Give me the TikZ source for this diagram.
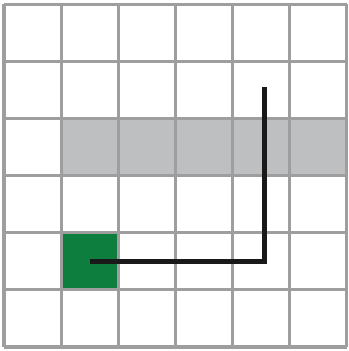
\documentclass[tikz,border=0pt]{standalone}
\definecolor{cellgreen}{HTML}{0E7E3E}
\definecolor{bandgray}{HTML}{BEBFC1}
\definecolor{gridgray}{HTML}{9E9E9E}
\begin{document}
\begin{tikzpicture}[
  x=1cm,y=1cm,
  band/.style={fill=bandgray, draw=none, minimum width=5cm, minimum height=1cm, inner sep=0pt},
  startcell/.style={fill=cellgreen, draw=none, minimum size=1cm, inner sep=0pt},
  gridline/.style={draw=gridgray, line width=1.5pt},
  route/.style={draw=black!90, line width=2.5pt, line join=miter}
]
\useasboundingbox (-0.07,-0.07) rectangle (6.02,6.07);
\fill[white] (-0.07,-0.07) rectangle (6.02,6.07);

\node[band]      (band)  at (3.5,3.5) {};
\node[startcell] (start) at (1.5,1.5) {};

\draw[gridline] (0,0) grid (6,6);

\coordinate (turn) at (4.55,1.5);
\coordinate (goal) at (4.55,4.54);
\draw[route] (start.center) -- (turn) -- (goal);
\end{tikzpicture}
\end{document}
